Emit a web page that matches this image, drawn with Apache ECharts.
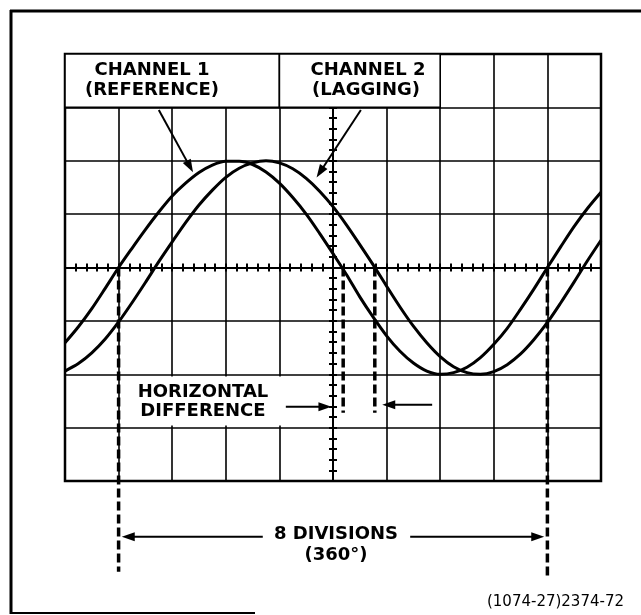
<!DOCTYPE html>
<html>
<head>
<meta charset="utf-8">
<script src="https://cdn.jsdelivr.net/npm/echarts@6/dist/echarts.min.js"></script>
<style>
  html, body { margin: 0; padding: 0; background: #fff; }
  #chart { width: 641px; height: 615px; }
</style>
</head>
<body>
<div id="chart"></div>
<script>
// 示波器格子: 10 x 8 格, 中心为 0
// 横坐标以格为单位 (-5..5), 纵坐标 (-4..4)
const xDiv = [-5, -4.75, -4.5, -4.25, -4, -3.75, -3.5, -3.25, -3, -2.75, -2.5, -2.25, -2, -1.75, -1.5, -1.25, -1, -0.75, -0.5, -0.25,
    0, 0.25, 0.5, 0.75, 1, 1.25, 1.5, 1.75, 2, 2.25, 2.5, 2.75, 3, 3.25, 3.5, 3.75, 4, 4.25, 4.5, 4.75, 5];
// 通道1 (参考)
const ch1 = [-1.41, -1.11, -0.77, -0.39, 0, 0.36, 0.71, 1.04, 1.34, 1.58, 1.78, 1.92, 1.99, 1.99, 1.93, 1.79, 1.58, 1.31, 1.0, 0.64,
    0.26, -0.13, -0.55, -0.93, -1.28, -1.57, -1.79, -1.94, -2.0, -1.97, -1.87, -1.69, -1.44, -1.14, -0.78, -0.40, 0, 0.39, 0.77, 1.11, 1.41];
// 通道2 (滞后)
const ch2 = [-1.94, -1.80, -1.60, -1.34, -1.02, -0.66, -0.28, 0.11, 0.48, 0.84, 1.17, 1.45, 1.69, 1.86, 1.96, 2.0, 1.96, 1.85, 1.67, 1.43,
    1.14, 0.80, 0.43, 0.05, -0.35, -0.74, -1.10, -1.41, -1.67, -1.86, -1.97, -2.0, -1.95, -1.82, -1.62, -1.35, -1.03, -0.66, -0.27, 0.13, 0.51];

// 虚线 (过零点)
const guideX = [-4, 0.19, 0.78, 4];
const guideEnd = [-5.7, -2.72, -2.72, -5.8];

// 箭头 起点 / 终点 / 旋转
const arrowFrom = [[-3.25, 2.95], [0.52, 2.95], [-0.88, -2.61], [1.85, -2.57], [-1.31, -5.045], [1.44, -5.045]];
const arrowTo = [[-2.67, 1.89], [-0.24, 1.79], [-0.15, -2.61], [1.04, -2.57], [-3.82, -5.045], [3.82, -5.045]];
const arrowTurn = [208.7, 146.7, -90, 90, 90, -90];

// 标题框 (顶行)
const headerBoxes = [[-5, -1], [-1, 2]];

let myChart = echarts.init(document.getElementById('chart'));

function zip(xs, ys) {
    return xs.map((x, i) => [x, ys[i]]);
}

let axisBase = {
    type: 'value',
    min: -5,
    max: 5,
    interval: 1,
    axisLabel: { show: false },
    axisLine: { show: true, onZero: true, lineStyle: { color: '#000', width: 2 } },
    axisTick: { show: true, length: 4, lineStyle: { color: '#000', width: 2 } },
    minorTick: { show: true, splitNumber: 5, length: 4, lineStyle: { color: '#000', width: 2 } },
    splitLine: { show: false }
};

let xAxes = [
    Object.assign({}, axisBase, { position: 'bottom', splitLine: { show: true, lineStyle: { color: '#000', width: 1.6 } } }),
    Object.assign({}, axisBase, { position: 'top' })
];
let yAxes = [
    Object.assign({}, axisBase, { min: -4, max: 4, position: 'left', splitLine: { show: true, lineStyle: { color: '#000', width: 1.6 } } }),
    Object.assign({}, axisBase, { min: -4, max: 4, position: 'right' })
];

let series = [];

// 波形
series.push({
    type: 'line',
    data: zip(xDiv, ch1),
    smooth: 0.3,
    symbol: 'none',
    lineStyle: { color: '#000', width: 3 },
    z: 3,
    markArea: {
        silent: true,
        itemStyle: { color: '#fff', opacity: 1, borderColor: '#000', borderWidth: 1.6 },
        data: headerBoxes.map(b => [{ coord: [b[0], 3] }, { coord: [b[1], 4] }])
    }
});
series.push({
    type: 'line',
    data: zip(xDiv, ch2),
    smooth: 0.3,
    symbol: 'none',
    lineStyle: { color: '#000', width: 3 },
    z: 3,
    markArea: {
        silent: true,
        itemStyle: { color: '#fff', opacity: 1, borderWidth: 0 },
        data: [[{ coord: [-3.96, -2.04] }, { coord: [-0.1, -2.96] }]]
    }
});

// 虚线
guideX.forEach((x, i) => {
    series.push({
        type: 'line',
        data: [[x, 0], [x, guideEnd[i]]],
        symbol: 'none',
        clip: false,
        z: 4,
        lineStyle: { color: '#000', width: 3.5, type: [9, 4] }
    });
});

// 箭头
arrowFrom.forEach((p, i) => {
    series.push({
        type: 'line',
        clip: false,
        z: 5,
        lineStyle: { color: '#000', width: 2 },
        itemStyle: { color: '#000' },
        showSymbol: true,
        showAllSymbol: true,
        data: [
            { value: p, symbol: 'none' },
            { value: arrowTo[i], symbol: 'triangle', symbolSize: [9, 13], symbolRotate: arrowTurn[i] }
        ]
    });
});

function txt(x, y, s, opts) {
    return {
        type: 'text',
        z: 100,
        x: x,
        y: y,
        style: Object.assign({
            text: s,
            fill: '#000',
            font: 'bold 18px "DejaVu Sans"',
            align: 'center',
            verticalAlign: 'middle'
        }, opts || {})
    };
}

let option = {
    animation: false,
    backgroundColor: '#fff',
    grid: {
        left: 65,
        top: 54,
        width: 536,
        height: 427,
        show: true,
        borderColor: '#000',
        borderWidth: 2.5,
        backgroundColor: 'transparent'
    },
    xAxis: xAxes,
    yAxis: yAxes,
    series: series,
    graphic: [
        // 外框
        { type: 'line', z: 100, shape: { x1: 10, y1: 11, x2: 641, y2: 11 }, style: { stroke: '#000', lineWidth: 3 } },
        { type: 'line', z: 100, shape: { x1: 11, y1: 10, x2: 11, y2: 614 }, style: { stroke: '#000', lineWidth: 3 } },
        { type: 'line', z: 100, shape: { x1: 10, y1: 613, x2: 255, y2: 613 }, style: { stroke: '#000', lineWidth: 2 } },
        // 文字
        txt(152, 70, 'CHANNEL 1'),
        txt(152, 90, '(REFERENCE)'),
        txt(368, 70, 'CHANNEL 2'),
        txt(366, 90, '(LAGGING)'),
        txt(203, 392, 'HORIZONTAL'),
        txt(203, 411, 'DIFFERENCE'),
        txt(336, 534, '8 DIVISIONS'),
        txt(336, 555, '(360°)'),
        txt(624, 602, '(1074-27)2374-72', { font: '15px "DejaVu Sans"', align: 'right' })
    ]
};
myChart.setOption(option);
</script>
</body>
</html>
